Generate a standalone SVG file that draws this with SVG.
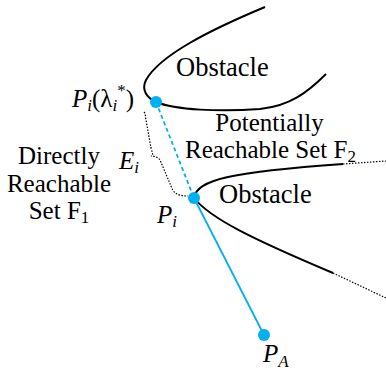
<svg xmlns="http://www.w3.org/2000/svg" width="386" height="371" viewBox="0 0 386 371">
<style>
text{font-family:"Liberation Serif","Times New Roman",serif;font-size:25px;fill:#000}
.it{font-style:italic}
.sub{font-size:17px}
.big{font-size:26.5px}
.obs{fill:none;stroke:#000;stroke-width:2}
.dot{fill:none;stroke:#000;stroke-width:1.2;stroke-dasharray:1.5 1.5}
.blue{fill:none;stroke:#00B0F0;stroke-width:1.8}
.pt{fill:#00B0F0}
</style>
<rect width="386" height="371" fill="#fff"/>
<g id="obstacle-upper">
<path class="obs" d="M265,7 C210,30 160,55 146,80 C141,90 147,98 156,102 C175,110 220,112 260,109 C290,106 308,92 326,74"/>
<text class="big" x="176" y="76">Obstacle</text>
</g>
<g id="obstacle-lower">
<path class="obs" d="M194,198 C196,180 230,172 343,164"/>
<path class="obs" d="M194,198 C210,218 250,238 333,273"/>
<path class="dot" d="M343,164 L386,161"/>
<path class="dot" d="M333,273 L386,298"/>
<text class="big" x="219" y="203">Obstacle</text>
</g>
<g id="connectors">
<path class="blue" d="M156,102 L194,198" stroke-dasharray="4 3"/>
<path class="blue" d="M194,198 L264,335"/>
<path class="dot" d="M144,112 C146,114 145,117 146,120 L151,148 C152,152 154,155 151,156 C154,156 158,157 160,160 L171,186 C173,192 176,196 188,196"/>
</g>
<g id="Pi-lambda">
<circle class="pt" cx="156" cy="102" r="6"/>
<text x="72" y="107"><tspan class="it">P</tspan><tspan class="it sub" dy="4">i</tspan><tspan dy="-4">(λ</tspan><tspan class="it sub" dy="4">i</tspan><tspan class="sub" dy="-15">*</tspan><tspan dy="11">)</tspan></text>
</g>
<g id="Pi">
<circle class="pt" cx="194" cy="198" r="6"/>
<text x="157" y="223"><tspan class="it">P</tspan><tspan class="it sub" dy="4">i</tspan></text>
</g>
<g id="PA">
<circle class="pt" cx="264" cy="335" r="6"/>
<text x="263" y="362"><tspan class="it">P</tspan><tspan class="it sub" dy="5">A</tspan></text>
</g>
<g id="Ei">
<text x="119" y="169"><tspan class="it">E</tspan><tspan class="it sub" dy="4">i</tspan></text>
</g>
<g id="F2-label">
<text x="269.5" y="131" text-anchor="middle">Potentially</text>
<text x="185" y="158">Reachable Set F<tspan class="sub" dy="4">2</tspan></text>
</g>
<g id="F1-label">
<text x="59" y="164" text-anchor="middle">Directly</text>
<text x="59" y="192" text-anchor="middle">Reachable</text>
<text x="59" y="219" text-anchor="middle">Set F<tspan class="sub" dy="4">1</tspan></text>
</g>
</svg>
